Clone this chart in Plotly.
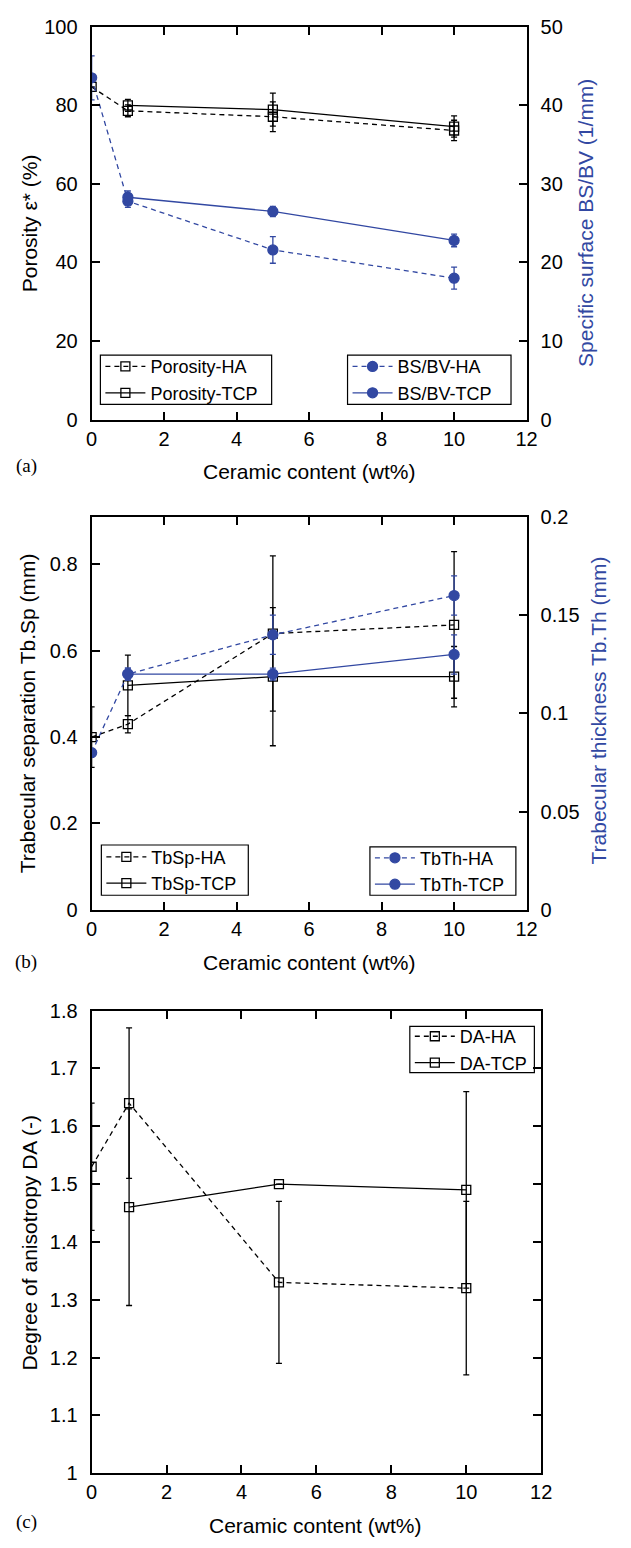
import plotly.graph_objects as go

W, H = 631, 1548
BLUE = "rgb(50,72,162)"
FONT = "Liberation Sans, Arial, Helvetica, sans-serif"

# ---------------- data ----------------
x_ha = [0, 1, 5, 10]
x_tcp = [1, 5, 10]

# (a)
por_ha = [84.7, 78.6, 77.1, 73.6]
por_ha_err = [0, 1.5, 3.8, 2.6]
por_tcp = [80.0, 78.9, 74.6]
por_tcp_err = [1.5, 4.2, 2.7]
bsbv_ha = [43.5, 27.8, 21.6, 18.0]
bsbv_ha_err = [2.8, 0.8, 1.7, 1.4]
bsbv_tcp = [28.3, 26.5, 22.8]
bsbv_tcp_err = [0.8, 0.65, 0.8]

# (b)
tbsp_ha = [0.40, 0.43, 0.64, 0.66]
tbsp_ha_err = [0.07, 0.02, 0.18, 0.17]
tbsp_tcp = [0.52, 0.54, 0.54]
tbsp_tcp_err = [0.07, 0.16, 0.07]
tbth_ha = [0.08, 0.12, 0.14, 0.16]
tbth_ha_err = [0, 0.003, 0.01, 0.01]
tbth_tcp = [0.12, 0.12, 0.13]
tbth_tcp_err = [0.003, 0.003, 0.01]

# (c)
da_ha = [1.53, 1.64, 1.33, 1.32]
da_ha_err = [0.11, 0.13, 0.14, 0.15]
da_tcp = [1.46, 1.50, 1.49]
da_tcp_err = [0.17, 0, 0.17]

x_ticks = [0, 2, 4, 6, 8, 10, 12]

# ---------------- helpers ----------------
def px(x):
    return x / W

def py(y):
    return 1 - y / H

DASH = "5px,4px"

def trace(x, y, err, name, xa, ya, leg, color, dashed, sym, size):
    return go.Scatter(
        x=x, y=y, name=name, xaxis=xa, yaxis=ya, legend=leg,
        mode="lines+markers",
        line=dict(color=color, width=1.3, dash=DASH if dashed else "solid"),
        marker=dict(symbol=sym, size=size, color=color,
                    line=dict(color=color, width=1.3)),
        error_y=dict(type="data", array=err, visible=True, color=color,
                     thickness=1.3, width=3),
    )

fig = go.Figure()
# (a)
fig.add_trace(trace(x_ha, por_ha, por_ha_err, "Porosity-HA", "x", "y", "legend", "black", True, "square-open", 9))
fig.add_trace(trace(x_tcp, por_tcp, por_tcp_err, "Porosity-TCP", "x", "y", "legend", "black", False, "square-open", 9))
fig.add_trace(trace(x_ha, bsbv_ha, bsbv_ha_err, "BS/BV-HA", "x", "y2", "legend2", BLUE, True, "circle", 10))
fig.add_trace(trace(x_tcp, bsbv_tcp, bsbv_tcp_err, "BS/BV-TCP", "x", "y2", "legend2", BLUE, False, "circle", 10))
# (b)
fig.add_trace(trace(x_ha, tbsp_ha, tbsp_ha_err, "TbSp-HA", "x2", "y3", "legend3", "black", True, "square-open", 9))
fig.add_trace(trace(x_tcp, tbsp_tcp, tbsp_tcp_err, "TbSp-TCP", "x2", "y3", "legend3", "black", False, "square-open", 9))
fig.add_trace(trace(x_ha, tbth_ha, tbth_ha_err, "TbTh-HA", "x2", "y4", "legend4", BLUE, True, "circle", 10))
fig.add_trace(trace(x_tcp, tbth_tcp, tbth_tcp_err, "TbTh-TCP", "x2", "y4", "legend4", BLUE, False, "circle", 10))
# (c)
fig.add_trace(trace(x_ha, da_ha, da_ha_err, "DA-HA", "x3", "y5", "legend5", "black", True, "square-open", 9))
fig.add_trace(trace(x_tcp, da_tcp, da_tcp_err, "DA-TCP", "x3", "y5", "legend5", "black", False, "square-open", 9))

TICKF = dict(family=FONT, size=20, color="black")

def xax(dom, anchor):
    return dict(domain=dom, anchor=anchor, range=[0, 12], tickvals=x_ticks,
                ticks="inside", ticklen=8, tickwidth=1.5, tickcolor="black",
                showline=True, linewidth=2, linecolor="black", mirror="ticks",
                showgrid=False, zeroline=False, tickfont=TICKF, ticklabelstandoff=0)

def yax(dom, anchor, rng, dtick, side="left", overlaying=None, mirror=False):
    d = dict(domain=dom, anchor=anchor, range=rng, dtick=dtick, tick0=rng[0],
             ticks="inside", ticklen=8, tickwidth=1.5, tickcolor="black",
             showline=True, linewidth=2, linecolor="black", mirror=mirror,
             showgrid=False, zeroline=False, tickfont=TICKF, side=side,
             ticklabelstandoff=8)
    if overlaying:
        d["overlaying"] = overlaying
    return d

# pixel boxes
A = (16, 414.5)
B = (513.3, 911.7)
C = (1014, 1483.3)
xa_dom = [px(88), px(535)]
xc_dom = [px(88), px(550)]

fig.update_layout(
    width=W, height=H, margin=dict(l=0, r=0, t=0, b=0),
    paper_bgcolor="white", plot_bgcolor="white", showlegend=True,
    font=dict(family=FONT, size=20, color="black"),
    xaxis=xax(xa_dom, "y"),
    yaxis=yax([py(A[1]), py(A[0])], "x", [0, 100], 20),
    yaxis2=yax([py(A[1]), py(A[0])], "x", [0, 50], 10, side="right", overlaying="y"),
    xaxis2=xax(xa_dom, "y3"),
    yaxis3=yax([py(B[1]), py(B[0])], "x2", [0, 0.91], 0.2),
    yaxis4=yax([py(B[1]), py(B[0])], "x2", [0, 0.2], 0.05, side="right", overlaying="y3"),
    xaxis3=xax(xc_dom, "y5"),
    yaxis5=yax([py(C[1]), py(C[0])], "x3", [1, 1.8], 0.1, mirror="ticks"),
)

# legend boxes in pixels: (left, top, right, bottom)
LEG_BOXES = {
    "legend": (97, 349, 273, 399),
    "legend2": (351, 349, 519, 399),
    "legend3": (98, 846, 249, 897),
    "legend4": (374, 848, 524, 897),
    "legend5": (415, 1030, 543, 1077),
}

shapes = []
legs = {}
for k, (l, t, r, b) in LEG_BOXES.items():
    shapes.append(dict(type="rect", xref="paper", yref="paper",
                       x0=px(l), x1=px(r), y0=py(b), y1=py(t),
                       line=dict(color="black", width=1.2), fillcolor="white",
                       layer="below"))
    legs[k] = dict(x=px(l), y=py((t + b) / 2), xanchor="left", yanchor="middle",
                   bgcolor="rgba(0,0,0,0)", borderwidth=0,
                   font=dict(family=FONT, size=18, color="black"),
                   itemwidth=40, tracegroupgap=0)

fig.update_layout(shapes=shapes, **legs)

ann = []
def title(text, x, y, angle=0, color="black", size=21, family=FONT):
    ann.append(dict(text=text, x=px(x), y=py(y), xref="paper", yref="paper",
                    showarrow=False, textangle=angle, xanchor="center", yanchor="middle",
                    font=dict(family=family, size=size, color=color)))

title("Ceramic content (wt%)", 311, 467)
title("Ceramic content (wt%)", 311, 965)
title("Ceramic content (wt%)", 318, 1536)
title("Porosity ε* (%)", 25, 215, -90)
title("Specific surface BS/BV (1/mm)", 596, 215, -90, BLUE)
title("Trabecular separation Tb.Sp (mm)", 23, 712, -90)
title("Trabecular thickness Tb.Th (mm)", 609, 710, -90, BLUE)
title("Degree of anisotropy DA (-)", 24, 1249, -90)
SERIF = "Liberation Serif, Times New Roman, serif"
title("(a)", 21, 462, 0, "black", 19, SERIF)
title("(b)", 21, 965, 0, "black", 19, SERIF)
title("(c)", 21, 1533, 0, "black", 19, SERIF)
fig.update_layout(annotations=ann)

fig.write_html("out.html")
